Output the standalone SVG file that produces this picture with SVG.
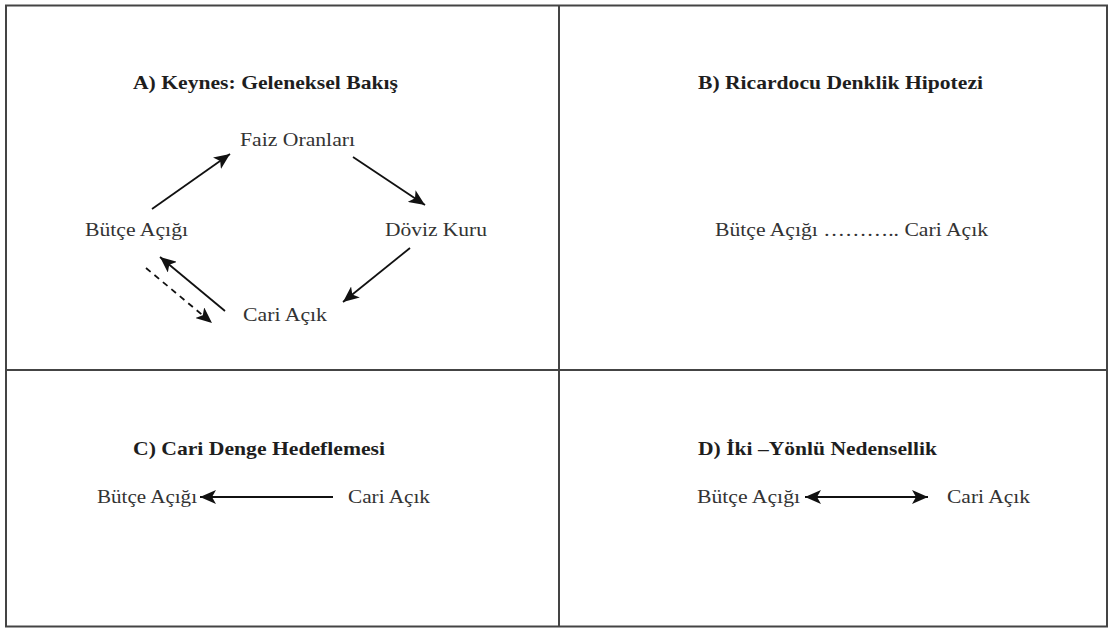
<svg xmlns="http://www.w3.org/2000/svg" width="1110" height="628" viewBox="0 0 1110 628">
<style>
.t{font-family:"Liberation Serif","Times New Roman",serif;font-size:19px;fill:#333}
.h{font-family:"Liberation Serif","Times New Roman",serif;font-size:19px;font-weight:bold;fill:#1e1e1e}
.grid{stroke:#444;stroke-width:2;fill:none}
.c{stroke:#111;stroke-width:1.8;fill:none}
</style>
<defs>
<marker id="ah" markerUnits="userSpaceOnUse" markerWidth="18" markerHeight="14" refX="16" refY="7" orient="auto-start-reverse">
<path d="M0,0 L16,7 L0,14 L4,7 Z" fill="#111"/>
</marker>
</defs>
<rect width="1110" height="628" fill="#fff"/>
<g id="grid">
<rect class="grid" x="6" y="5.5" width="1101" height="621"/>
<line class="grid" x1="559" y1="5.5" x2="559" y2="626.5"/>
<line class="grid" x1="6" y1="370" x2="1107" y2="370"/>
</g>
<g id="titles">
<text class="h" x="133" y="89" textLength="265" lengthAdjust="spacingAndGlyphs">A) Keynes: Geleneksel Bakış</text>
<text class="h" x="698" y="89" textLength="285" lengthAdjust="spacingAndGlyphs">B) Ricardocu Denklik Hipotezi</text>
<text class="h" x="133" y="455" textLength="252" lengthAdjust="spacingAndGlyphs">C) Cari Denge Hedeflemesi</text>
<text class="h" x="698" y="455" textLength="239" lengthAdjust="spacingAndGlyphs">D) İki –Yönlü Nedensellik</text>
</g>
<g id="node-a-faiz"><text class="t" x="240" y="146" textLength="115" lengthAdjust="spacingAndGlyphs">Faiz Oranları</text></g>
<g id="node-a-butce"><text class="t" x="85" y="236" textLength="103" lengthAdjust="spacingAndGlyphs">Bütçe Açığı</text></g>
<g id="node-a-doviz"><text class="t" x="385" y="236" textLength="102" lengthAdjust="spacingAndGlyphs">Döviz Kuru</text></g>
<g id="node-a-cari"><text class="t" x="243" y="321" textLength="84" lengthAdjust="spacingAndGlyphs">Cari Açık</text></g>
<g id="node-b"><text class="t" x="715" y="236" textLength="273" lengthAdjust="spacingAndGlyphs">Bütçe Açığı ……….. Cari Açık</text></g>
<g id="node-c-butce"><text class="t" x="97" y="503" textLength="100" lengthAdjust="spacingAndGlyphs">Bütçe Açığı</text></g>
<g id="node-c-cari"><text class="t" x="348" y="503" textLength="82" lengthAdjust="spacingAndGlyphs">Cari Açık</text></g>
<g id="node-d-butce"><text class="t" x="697" y="503" textLength="103" lengthAdjust="spacingAndGlyphs">Bütçe Açığı</text></g>
<g id="node-d-cari"><text class="t" x="947" y="503" textLength="83" lengthAdjust="spacingAndGlyphs">Cari Açık</text></g>
<g id="connectors">
<line class="c" x1="152" y1="209" x2="230" y2="154" marker-end="url(#ah)"/>
<line class="c" x1="353" y1="157" x2="425" y2="205" marker-end="url(#ah)"/>
<line class="c" x1="410" y1="248" x2="343" y2="302" marker-end="url(#ah)"/>
<line class="c" x1="225" y1="311" x2="160" y2="257" marker-end="url(#ah)"/>
<line class="c" x1="146" y1="268" x2="212" y2="323" stroke-dasharray="6,5" marker-end="url(#ah)"/>
<line class="c" x1="333" y1="497" x2="200" y2="497" marker-end="url(#ah)"/>
<line class="c" x1="805" y1="497" x2="928" y2="497" marker-start="url(#ah)" marker-end="url(#ah)"/>
</g>
</svg>
